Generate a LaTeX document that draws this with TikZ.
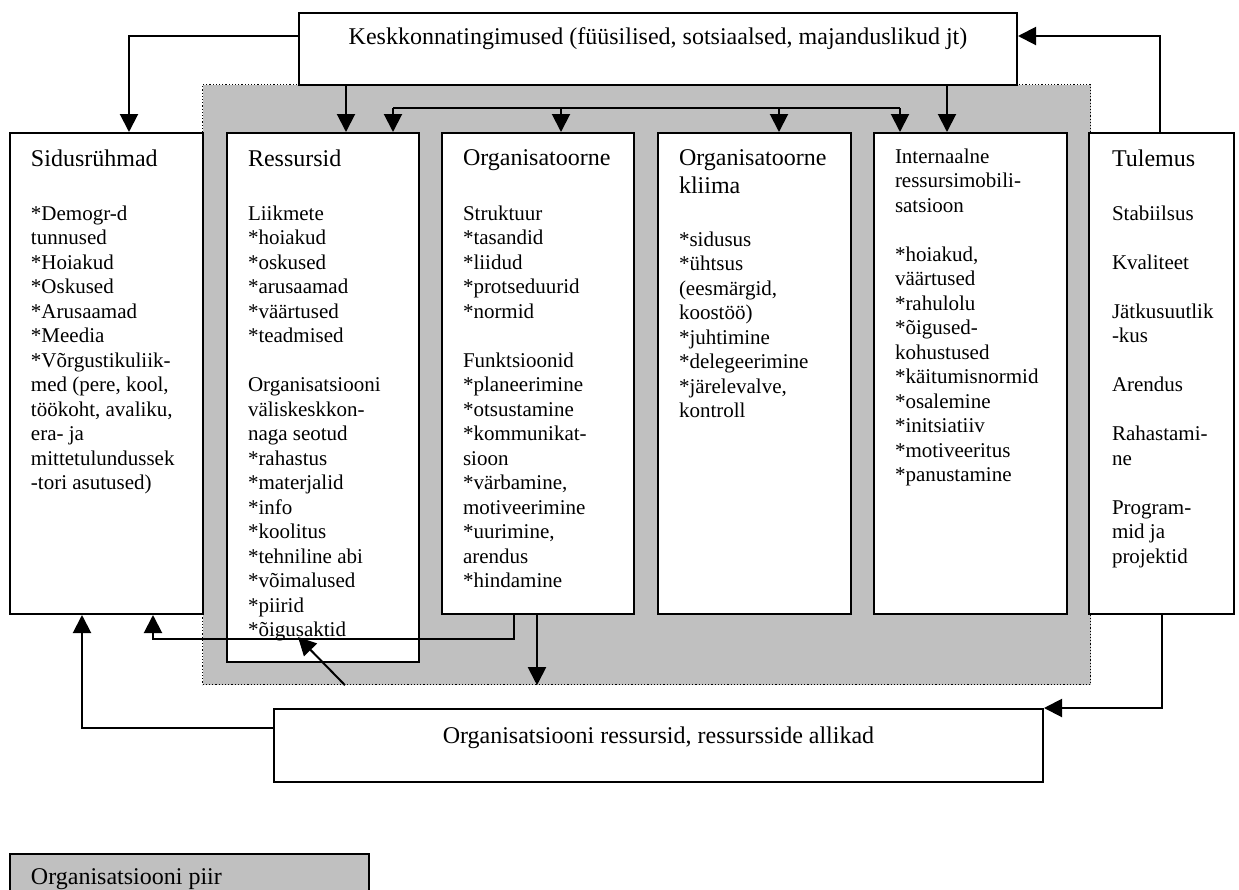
\documentclass[tikz,border=0pt]{standalone}
\usepackage{fontspec}
\setmainfont{Liberation Serif}
\usetikzlibrary{arrows.meta, positioning}
\tikzset{>={Triangle[length=9pt,width=9pt]}}
\definecolor{piirhall}{RGB}{192,192,192}
\tikzset{
	kast/.style={draw, fill=white, anchor=north west, inner sep=0pt},
	piirala/.style={draw, densely dotted, line width=0.6pt, fill=piirhall, anchor=north west, inner sep=0pt},
	pealkiri/.style={anchor=north west, inner sep=0pt, align=left, font=\fontsize{12}{14}\selectfont},
	sisu/.style={anchor=north west, inner sep=0pt, align=left, font=\fontsize{10.5}{12.25}\selectfont},
	rida/.style={inner sep=0pt, font=\fontsize{12}{14}\selectfont}
}

\begin{document}
\begin{tikzpicture}[x=0.5pt, y=-0.5pt, line width=1pt]
	\useasboundingbox (0,0) rectangle (1239,890);

	% organisatsiooni piir
	\node[piirala, minimum width=444pt, minimum height=300pt] (piir) at (202,84) {};

	\node[kast, minimum width=359pt, minimum height=36pt] (env) at (298,12) {};
	\node[kast, minimum width=96.5pt, minimum height=240.5pt] (sidus) at (9,132) {};
	\node[kast, minimum width=96pt, minimum height=264.5pt] (ress) at (226,132) {};
	\node[kast, minimum width=96pt, minimum height=240.5pt] (org) at (441,132) {};
	\node[kast, minimum width=96.5pt, minimum height=240.5pt] (kliima) at (657,132) {};
	\node[kast, minimum width=96.5pt, minimum height=240.5pt] (intern) at (873,132) {};
	\node[kast, minimum width=72.5pt, minimum height=240.5pt] (tulemus) at (1088,132) {};
	\node[kast, minimum width=384.5pt, minimum height=36.5pt] (allikad) at (273,708) {};
	\node[kast, fill=piirhall, minimum width=179.5pt, minimum height=26pt] (legend) at (9,853) {};

	\node[rida, anchor=base] (env-t) at (env.north |- 0,44) {Keskkonnatingimused (füüsilised, sotsiaalsed, majanduslikud jt)};
	\node[rida, anchor=base] (allikad-t) at (allikad.north |- 0,743) {Organisatsiooni ressursid, ressursside allikad};
	\node[pealkiri, below right=7.3pt and 10.5pt of legend.north west] (legend-t) {Organisatsiooni piir};

	\node[pealkiri, below right=8.3pt and 10.5pt of sidus.north west] (sidus-p) {Sidusrühmad};
	\node[sisu, below right=36.35pt and 10.5pt of sidus.north west] (sidus-s) {*Demogr-d\\ tunnused\\ {*}Hoiakud\\ {*}Oskused\\ {*}Arusaamad\\ {*}Meedia\\ {*}Võrgustikuliik-\\ med (pere, kool,\\ töökoht, avaliku,\\ era- ja\\ mittetulundussek\\ -tori asutused)};

	\node[pealkiri, below right=8.3pt and 10.5pt of ress.north west] (ress-p) {Ressursid};
	\node[sisu, below right=36.35pt and 10.5pt of ress.north west] (ress-s) {Liikmete\\ {*}hoiakud\\ {*}oskused\\ {*}arusaamad\\ {*}väärtused\\ {*}teadmised\\[12.25pt] Organisatsiooni\\ väliskeskkon-\\ naga seotud\\ {*}rahastus\\ {*}materjalid\\ {*}info\\ {*}koolitus\\ {*}tehniline abi\\ {*}võimalused\\ {*}piirid\\ {*}õigusaktid};

	\node[pealkiri, below right=8.3pt and 10.5pt of org.north west] (org-p) {Organisatoorne};
	\node[sisu, below right=36.35pt and 10.5pt of org.north west] (org-s) {Struktuur\\ {*}tasandid\\ {*}liidud\\ {*}protseduurid\\ {*}normid\\[12.25pt] Funktsioonid\\ {*}planeerimine\\ {*}otsustamine\\ {*}kommunikat-\\ sioon\\ {*}värbamine,\\ motiveerimine\\ {*}uurimine,\\ arendus\\ {*}hindamine};

	\node[pealkiri, below right=8.3pt and 10.5pt of kliima.north west] (kliima-p) {Organisatoorne\\ kliima};
	\node[sisu, below right=49.35pt and 10.5pt of kliima.north west] (kliima-s) {*sidusus\\ {*}ühtsus\\ (eesmärgid,\\ koostöö)\\ {*}juhtimine\\ {*}delegeerimine\\ {*}järelevalve,\\ kontroll};

	\node[sisu, below right=7.85pt and 10.5pt of intern.north west] (intern-s) {Internaalne\\ ressursimobili-\\ satsioon\\[12.25pt] {*}hoiakud,\\ väärtused\\ {*}rahulolu\\ {*}õigused-\\ kohustused\\ {*}käitumisnormid\\ {*}osalemine\\ {*}initsiatiiv\\ {*}motiveeritus\\ {*}panustamine};

	\node[pealkiri, below right=8.3pt and 11.5pt of tulemus.north west] (tulemus-p) {Tulemus};
	\node[sisu, below right=36.35pt and 11.5pt of tulemus.north west] (tulemus-s) {Stabiilsus\\[12.25pt] Kvaliteet\\[12.25pt] Jätkusuutlik\\ -kus\\[12.25pt] Arendus\\[12.25pt] Rahastami-\\ ne\\[12.25pt] Program-\\ mid ja\\ projektid};

	% nooled
	\draw[->] (env.west |- 0,36) -| (sidus.north -| 129,0);
	\draw[->] (env.south -| 346,0) -- (ress.north -| 346,0);
	\draw[->] (env.south -| 947,0) -- (intern.north -| 947,0);
	\draw (393,108) -- (900,108);
	\foreach \x/\kuhu in {393/ress, 561/org, 779/kliima, 900/intern}
		\draw[->] (\x,108) -- (\kuhu.north -| \x,0);
	\draw[->] (tulemus.north -| 1160,0) |- (env.east |- 0,36);

	\draw[->] (org.south -| 514,0) -- ++(0,24) -| (sidus.south -| 153,0);
	\draw[->] (org.south -| 537,0) -- (piir.south -| 537,0);
	\coordinate (oigus) at (298,637);
	\draw[->] (piir.south -| 345,0) -- (oigus);
	\draw[->] (allikad.west |- 0,728) -| (sidus.south -| 82,0);
	\draw[->] (tulemus.south -| 1162,0) |- (allikad.north east);

\end{tikzpicture}
\end{document}
